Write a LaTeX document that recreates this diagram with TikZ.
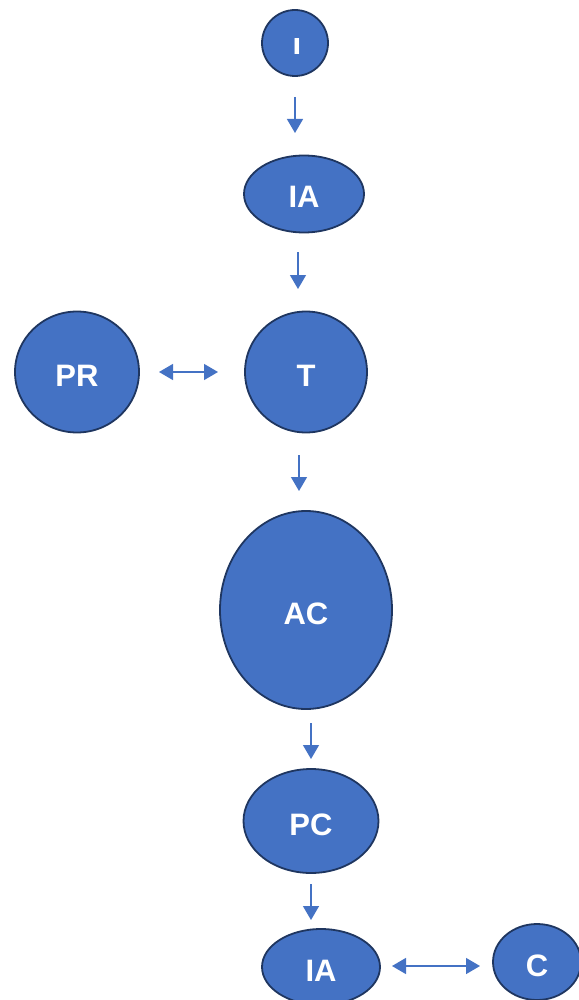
\documentclass[tikz,border=0pt]{standalone}
\usepackage{fontspec}
\setmainfont{Liberation Sans}
\usetikzlibrary{shapes.geometric,arrows.meta}
\tikzset{
  bub/.style={ellipse, draw=bordc, fill=fillc, line width=1.8pt, inner sep=0pt,
    text=white, font=\bfseries\fontsize{31}{31}\selectfont},
  arr/.style={draw=arrc, line width=1.4pt, -{Triangle[length=14pt,width=16pt]}},
  darr/.style={draw=arrc, line width=1.4pt, {Triangle[length=14pt,width=16pt]}-{Triangle[length=14pt,width=16pt]}}
}
\definecolor{fillc}{HTML}{4472C4}
\definecolor{bordc}{HTML}{1F3660}
\definecolor{arrc}{HTML}{4472C4}
\newcommand{\lowr}[1]{\raisebox{-14pt}[0pt][0pt]{#1}}
\begin{document}
\begin{tikzpicture}[x=1pt,y=-1pt]
\useasboundingbox (0,0) rectangle (578,1000);
\node[bub, minimum width=66pt, minimum height=66pt] (I) at (295,43) {};
\begin{scope}
\clip (270,39) rectangle (320,54);
\node[text=white, font=\bfseries\fontsize{31}{31}\selectfont, inner sep=0pt] (Itxt) at (297,45) {I};
\end{scope}
\node[bub, minimum width=120pt, minimum height=77pt] (IA1) at (304,194) {\lowr{IA}};
\node[bub, minimum width=122pt, minimum height=121pt] (T) at (306,372) {\lowr{T}};
\node[bub, minimum width=124pt, minimum height=121pt] (PR) at (77,372) {\lowr{PR}};
\node[bub, minimum width=172pt, minimum height=198pt] (AC) at (306,610) {\lowr{AC}};
\node[bub, minimum width=135pt, minimum height=104pt] (PC) at (311,821) {\lowr{PC}};
\node[bub, minimum width=118pt, minimum height=76pt] (IA2) at (321,967) {\lowr{IA}};
\node[bub, minimum width=88pt, minimum height=76pt] (C) at (537,962) {\lowr{C}};

\coordinate (a1s) at (295,97);  \coordinate (a1e) at (295,133);
\coordinate (a2s) at (298,252); \coordinate (a2e) at (298,289);
\coordinate (a3s) at (299,455); \coordinate (a3e) at (299,491);
\coordinate (a4s) at (311,723); \coordinate (a4e) at (311,759);
\coordinate (a5s) at (311,884); \coordinate (a5e) at (311,920);
\coordinate (d1s) at (159,372); \coordinate (d1e) at (218,372);
\coordinate (d2s) at (392,966); \coordinate (d2e) at (480,966);
\draw[arr] (a1s) -- (a1e);
\draw[arr] (a2s) -- (a2e);
\draw[arr] (a3s) -- (a3e);
\draw[arr] (a4s) -- (a4e);
\draw[arr] (a5s) -- (a5e);
\draw[darr] (d1s) -- (d1e);
\draw[darr] (d2s) -- (d2e);
\end{tikzpicture}
\end{document}
